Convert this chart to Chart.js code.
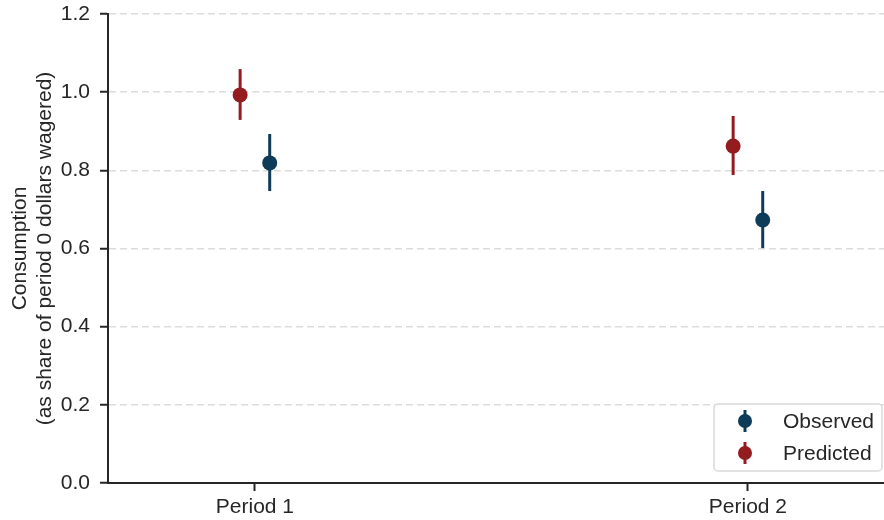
<!DOCTYPE html>
<html>
<head>
<meta charset="utf-8">
<script src="https://cdn.jsdelivr.net/npm/chart.js@4.4.1/dist/chart.umd.min.js"></script>
<style>
  html, body { margin: 0; padding: 0; background: #fff; }
  #chart { display: block; }
</style>
</head>
<body>
<canvas id="chart" width="884" height="520"></canvas>
<script>
// values
const periods = ['Period 1', 'Period 2']
const observed = [0.819, 0.673]
const observedLow = [0.747, 0.601]
const observedHigh = [0.893, 0.747]
const predicted = [0.993, 0.862]
const predictedLow = [0.929, 0.788]
const predictedHigh = [1.059, 0.939]
const yTicks = [0, 0.2, 0.4, 0.6, 0.8, 1.0, 1.2]

const RED = '#941b1e'
const BLUE = '#0e3b58'
const INK = '#262626'
const FONT = "'Liberation Sans', Arial, sans-serif"
const FS = 21
const DODGE = 0.03

function points (vals, lo, hi, shift) {
    return vals.map((v, i) => ({x: i + shift, y: v, lo: lo[i], hi: hi[i]}))
}

// vertical error bars under the dots
const errorBars = {
    id: 'errorBars',
    beforeDatasetsDraw (chart) {
        const ctx = chart.ctx
        const xs = chart.scales.x, ys = chart.scales.y
        chart.data.datasets.forEach(ds => {
            ctx.save()
            ctx.strokeStyle = ds.borderColor
            ctx.lineWidth = 3
            ds.data.forEach(p => {
                const px = xs.getPixelForValue(p.x)
                ctx.beginPath()
                ctx.moveTo(px, ys.getPixelForValue(p.lo))
                ctx.lineTo(px, ys.getPixelForValue(p.hi))
                ctx.stroke()
            })
            ctx.restore()
        })
    }
}

// boxed legend in the lower right corner of the plot
const cornerLegend = {
    id: 'cornerLegend',
    afterDraw (chart) {
        const ctx = chart.ctx
        const area = chart.chartArea
        const w = 168, h = 67
        const x0 = area.right - w - 2, y0 = area.bottom - 12 - h
        ctx.save()
        ctx.fillStyle = 'rgba(255,255,255,0.9)'
        ctx.strokeStyle = '#d9d9d9'
        ctx.lineWidth = 1.5
        ctx.beginPath()
        ctx.roundRect(x0, y0, w, h, 4)
        ctx.fill()
        ctx.stroke()
        const entries = [['Observed', BLUE], ['Predicted', RED]]
        entries.forEach(([label, color], i) => {
            const cy = y0 + 17 + i * 32
            const cx = x0 + 31
            ctx.strokeStyle = color
            ctx.lineWidth = 3
            ctx.beginPath()
            ctx.moveTo(cx, cy - 11)
            ctx.lineTo(cx, cy + 11)
            ctx.stroke()
            ctx.fillStyle = color
            ctx.beginPath()
            ctx.arc(cx, cy, 7, 0, Math.PI * 2)
            ctx.fill()
            ctx.fillStyle = INK
            ctx.font = FS + 'px ' + FONT
            ctx.textBaseline = 'middle'
            ctx.textAlign = 'left'
            ctx.fillText(label, x0 + 69, cy + 1)
        })
        ctx.restore()
    }
}

const config = {
    type: 'scatter',
    data: {
        datasets: [
            {
                label: 'Predicted',
                data: points(predicted, predictedLow, predictedHigh, -DODGE),
                backgroundColor: RED,
                borderColor: RED,
                pointRadius: 7.5,
                pointHoverRadius: 7.5,
                borderWidth: 0
            },
            {
                label: 'Observed',
                data: points(observed, observedLow, observedHigh, DODGE),
                backgroundColor: BLUE,
                borderColor: BLUE,
                pointRadius: 7.5,
                pointHoverRadius: 7.5,
                borderWidth: 0
            }
        ]
    },
    options: {
        responsive: false,
        animation: false,
        events: [],
        layout: {autoPadding: false, padding: {top: 14, right: 0, left: 0, bottom: 0}},
        plugins: {legend: {display: false}, tooltip: {enabled: false}},
        scales: {
            x: {
                type: 'linear',
                min: -0.298,
                max: 1.276,
                afterBuildTicks: s => { s.ticks = periods.map((_, i) => ({value: i})) },
                afterFit: s => { s.height = 37; s.paddingLeft = 0; s.paddingRight = 0 },
                grid: {drawOnChartArea: false, drawTicks: true, tickLength: 8, tickColor: INK, tickWidth: 2},
                border: {color: INK, width: 2},
                ticks: {
                    color: INK,
                    font: {family: FONT, size: FS},
                    padding: 4,
                    autoSkip: false,
                    maxRotation: 0,
                    callback: v => periods[v]
                }
            },
            y: {
                min: 0,
                max: 1.2,
                afterBuildTicks: s => { s.ticks = yTicks.map(v => ({value: v})) },
                afterFit: s => { s.width = 108; s.paddingTop = 0; s.paddingBottom = 0 },
                grid: {color: '#dcdcdc', lineWidth: 1.5, drawTicks: true, tickLength: 8, tickColor: INK, tickWidth: 2},
                border: {color: INK, width: 2, dash: [7, 4]},
                ticks: {
                    color: INK,
                    font: {family: FONT, size: FS},
                    padding: 10,
                    callback: v => v.toFixed(1)
                },
                title: {
                    display: true,
                    text: ['Consumption', '(as share of period 0 dollars wagered)'],
                    color: INK,
                    font: {family: FONT, size: FS, lineHeight: 1.2},
                    padding: {top: 7.5, bottom: 0}
                }
            }
        }
    },
    plugins: [errorBars, cornerLegend]
}

const myChart = new Chart(document.getElementById('chart'), config)
</script>
</body>
</html>
